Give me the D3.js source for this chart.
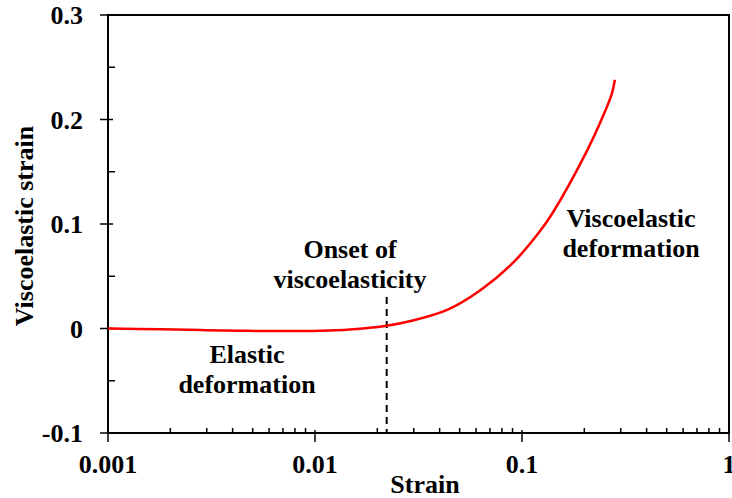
<!DOCTYPE html>
<html>
<head>
<meta charset="utf-8">
<script src="https://cdn.jsdelivr.net/npm/d3@7"></script>
</head>
<body style="margin:0">
<svg width="732" height="498"></svg>
<script>
// strain values
const strain = [0.001, 0.0018, 0.0028, 0.0043, 0.0064, 0.0106, 0.0147, 0.0218, 0.0297, 0.0435, 0.0627, 0.0906, 0.122, 0.141, 0.206, 0.246, 0.272, 0.281];
const viscoStrain = [0, -0.0008, -0.0015, -0.0021, -0.0025, -0.0022, -0.001, 0.0024, 0.0077, 0.0178, 0.0364, 0.063, 0.093, 0.111, 0.170, 0.203, 0.225, 0.238];

const xTicks = [0.001, 0.01, 0.1, 1];
const xTickLabels = ['0.001', '0.01', '0.1', '1'];
const yTicks = [-0.1, 0, 0.1, 0.2, 0.3];
const yTickLabels = ['-0.1', '0', '0.1', '0.2', '0.3'];
const yMinor = [-0.05, 0.05, 0.15, 0.25];
const onset = 0.0222;

const margin = { top: 15, right: 3, bottom: 65, left: 108 };
const W = 732, H = 498;

const x = d3.scaleLog()
    .domain([0.001, 1])
    .range([margin.left, W - margin.right]);

const y = d3.scaleLinear()
    .domain([-0.1, 0.3])
    .range([H - margin.bottom, margin.top]);

const svg = d3.select('svg');

let data = strain.map((s, i) => ({ s: s, v: viscoStrain[i] }));

// minor x ticks (2..9 in each decade)
let xMinor = [];
for (let d = 0.001; d < 1; d *= 10) {
    for (let k = 2; k <= 9; ++k) xMinor.push(d * k);
}

// start-anchored text, shifted by its measured width (0.5 = centre, 1 = right)
function put(parent, str, px, py, anchor) {
    const t = parent.append('text')
        .attr('x', px).attr('y', py)
        .style('font-family', '"Liberation Serif"')
        .style('font-weight', 'bold')
        .style('font-size', '26px')
        .text(str);
    const w = t.node().getComputedTextLength();
    t.attr('x', px - w * anchor);
    return t;
}

// frame (top + right)
svg.append('path')
    .attr('d', `M${x(0.001)},${y(0.3)}H${x(1)}V${y(-0.1)}`)
    .attr('fill', 'none')
    .attr('stroke', '#000')
    .attr('stroke-width', 2);

// x axis
const xAxis = svg.append('g');
xAxis.append('line')
    .attr('x1', x(0.001) - 1).attr('x2', x(1) + 1)
    .attr('y1', y(-0.1)).attr('y2', y(-0.1))
    .attr('stroke', '#000').attr('stroke-width', 2);
xAxis.selectAll('.minor')
    .data(xMinor)
    .join('line')
    .attr('x1', d => x(d)).attr('x2', d => x(d))
    .attr('y1', y(-0.1) - 5).attr('y2', y(-0.1))
    .attr('stroke', '#000').attr('stroke-width', 1.5);
xAxis.selectAll('.major')
    .data(xTicks)
    .join('line')
    .attr('x1', d => x(d)).attr('x2', d => x(d))
    .attr('y1', y(-0.1) - 3).attr('y2', y(-0.1) + 9)
    .attr('stroke', '#000').attr('stroke-width', 1.5);
xTicks.forEach((d, i) => put(xAxis, xTickLabels[i], x(d), 473, 0.5));

// y axis
const yAxis = svg.append('g');
yAxis.append('line')
    .attr('x1', x(0.001)).attr('x2', x(0.001))
    .attr('y1', y(0.3) - 1).attr('y2', y(-0.1) + 1)
    .attr('stroke', '#000').attr('stroke-width', 2);
yAxis.selectAll('.minor')
    .data(yMinor)
    .join('line')
    .attr('x1', x(0.001)).attr('x2', x(0.001) + 7)
    .attr('y1', d => y(d)).attr('y2', d => y(d))
    .attr('stroke', '#000').attr('stroke-width', 1.5);
yAxis.selectAll('.major')
    .data(yTicks)
    .join('line')
    .attr('x1', x(0.001) - 8).attr('x2', x(0.001) + 5)
    .attr('y1', d => y(d)).attr('y2', d => y(d))
    .attr('stroke', '#000').attr('stroke-width', 1.5);
yTicks.forEach((d, i) => put(yAxis, yTickLabels[i], 83, y(d) + 9, 1));

// axis titles
put(svg, 'Strain', 425, 493, 0.5);
put(svg.append('g').attr('transform', 'translate(33,226) rotate(-90)'), 'Viscoelastic strain', 0, 0, 0.5);

// onset marker
svg.append('line')
    .attr('x1', x(onset)).attr('x2', x(onset))
    .attr('y1', 297).attr('y2', y(-0.1))
    .attr('stroke', '#000')
    .attr('stroke-width', 2)
    .attr('stroke-dasharray', '7,5');

// curve
const line = d3.line()
    .x(d => x(d.s))
    .y(d => y(d.v))
    .curve(d3.curveCatmullRom.alpha(0.5));

svg.append('path')
    .datum(data)
    .attr('fill', 'none')
    .attr('stroke', '#ff0000')
    .attr('stroke-width', 2.5)
    .attr('d', line);

// annotations
const notes = [
    { lines: ['Onset of', 'viscoelasticity'], cx: 350, y0: 258 },
    { lines: ['Elastic', 'deformation'], cx: 247, y0: 363 },
    { lines: ['Viscoelastic', 'deformation'], cx: 631, y0: 227 }
];
notes.forEach(n => {
    const g = svg.append('g');
    n.lines.forEach((s, i) => put(g, s, n.cx, n.y0 + i * 30, 0.5));
});
</script>
</body>
</html>
